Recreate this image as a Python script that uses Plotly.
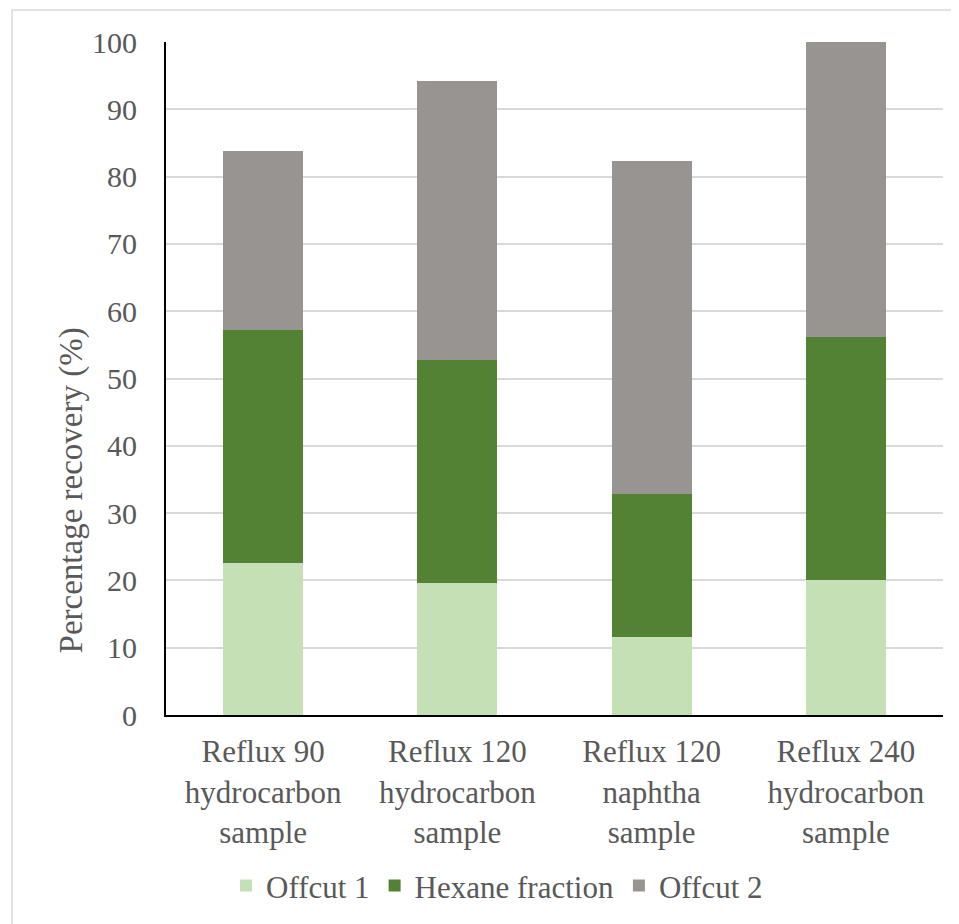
import plotly.graph_objects as go

categories = [
    "Reflux 90<br>hydrocarbon<br>sample",
    "Reflux 120<br>hydrocarbon<br>sample",
    "Reflux 120<br>naphtha<br>sample",
    "Reflux 240<br>hydrocarbon<br>sample",
]
offcut1 = [22.6, 19.6, 11.6, 20.1]
hexane = [34.6, 33.2, 21.3, 36.0]
offcut2 = [26.6, 41.4, 49.4, 43.9]

series_names = ["Offcut 1", "Hexane fraction", "Offcut 2"]
series_colors = ["#C5E0B4", "#548235", "#989492"]
y_ticks = [0, 10, 20, 30, 40, 50, 60, 70, 80, 90, 100]

FONT = "Liberation Serif"
TXT = "#595959"

fig = go.Figure()
for name, vals, col in zip(series_names, [offcut1, hexane, offcut2], series_colors):
    fig.add_trace(go.Bar(x=categories, y=vals, name=name,
                         marker=dict(color=col, line=dict(width=0))))

fig.update_layout(
    width=951, height=916,
    barmode="stack", bargap=0.588,
    margin=dict(l=158, r=16, t=34, b=208),
    paper_bgcolor="white", plot_bgcolor="white",
    font=dict(family=FONT, color=TXT, size=31),
    showlegend=True,
    legend=dict(orientation="h", x=0.426, xanchor="center", y=-0.252, yanchor="middle",
                font=dict(size=31, color=TXT, family=FONT), traceorder="normal",
                itemwidth=30, bgcolor="rgba(0,0,0,0)"),
    xaxis=dict(showline=True, linecolor="black", linewidth=2, showgrid=False,
               ticks="", tickfont=dict(size=31, color=TXT, family=FONT), ticklabelstandoff=8),
    yaxis=dict(range=[0, 100], tickvals=y_ticks, showline=True, linecolor="black",
               linewidth=2, showgrid=True, gridcolor="#D9D9D9", gridwidth=1.5,
               ticks="", tickfont=dict(size=30, color=TXT, family=FONT), ticklabelstandoff=21,
               zeroline=False),
    annotations=[dict(text="Percentage recovery (%)", xref="paper", yref="paper",
                      x=-0.122, y=0.334, textangle=-90, showarrow=False,
                      font=dict(size=33, color=TXT, family=FONT),
                      xanchor="center", yanchor="middle")],
    shapes=[dict(type="rect", xref="paper", yref="paper",
                 x0=(12 - 166) / 777, x1=(1000 - 166) / 777,
                 y0=(716 - 1000) / 674, y1=(716 - 10) / 674,
                 line=dict(color="#D9D9D9", width=1.5), fillcolor="rgba(0,0,0,0)",
                 layer="below")],
)

fig.write_html("out.html")
